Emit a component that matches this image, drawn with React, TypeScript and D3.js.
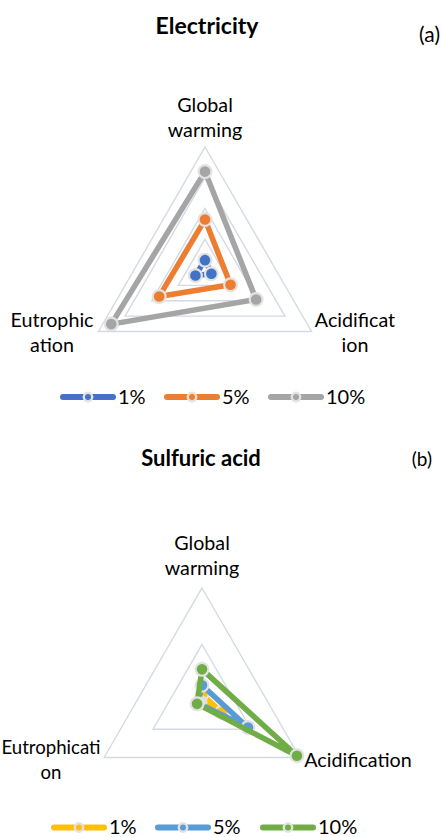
import React from "react";
import * as d3 from "d3";

// ---- data ----
const AXES = ["Global warming", "Acidification", "Eutrophication"];
const SERIES_NAMES = ["1%", "5%", "10%"];

const ELEC_1 = [0.08, 0.06, 0.09];
const ELEC_5 = [0.41, 0.24, 0.43];
const ELEC_10 = [0.8, 0.48, 0.88];
const ELEC_TICKS = [0.25, 0.5, 0.75, 1];
const ELEC_LABELS = [["Global", "warming"], ["Acidificat", "ion"], ["Eutrophic", "ation"]];

const SULF_1 = [0.06, 0.2, 0.02];
const SULF_5 = [0.14, 0.47, 0.04];
const SULF_10 = [0.28, 0.97, 0.05];
const SULF_TICKS = [0.5, 1];
const SULF_LABELS = [["Global", "warming"], ["Acidification"], ["Eutrophicati", "on"]];

const ELEC_COLORS = ["#4472C4", "#ED7D31", "#A5A5A5"];
const SULF_COLORS = ["#FFC000", "#5B9BD5", "#70AD47"];

const FONT = "Lato, 'Liberation Sans', sans-serif";
const GRID = "#D3DAE4";
const MARK_STROKE = "#E2E2E2";

// angle in radians, clockwise from 12 o'clock (d3 radial convention)
const angleScale = d3.scalePoint<string>().domain([...AXES, "_"]).range([0, 2 * Math.PI]);

type LabelPos = { x: number; y: number; anchor: string; size?: number };

function Radar(props: {
  cx: number; cy: number; R: number; ticks: number[];
  series: number[][]; colors: string[];
  labels: string[][]; labelPos: LabelPos[];
}) {
  const { cx, cy, R, ticks, series, colors, labels, labelPos } = props;
  const r = d3.scaleLinear().domain([0, 1]).range([0, R]);
  const line = d3
    .lineRadial<number>()
    .angle((_, i) => angleScale(AXES[i]) as number)
    .radius((d) => r(d))
    .curve(d3.curveLinearClosed);
  const pt = (v: number, i: number) => {
    const a = angleScale(AXES[i]) as number;
    return [Math.sin(a) * r(v), -Math.cos(a) * r(v)];
  };
  return (
    <g>
      <g transform={`translate(${cx},${cy})`}>
        {ticks.map((t) => (
          <path key={t} d={line(AXES.map(() => t)) || ""} fill="none" stroke={GRID} strokeWidth={1.4} />
        ))}
        {series.map((s, si) => (
          <g key={si}>
            <path d={line(s) || ""} fill="none" stroke={colors[si]} strokeWidth={5.5} strokeLinejoin="round" />
            {s.map((v, i) => {
              const [x, y] = pt(v, i);
              return <circle key={i} cx={x} cy={y} r={6.4} fill={colors[si]} stroke={MARK_STROKE} strokeWidth={2.2} />;
            })}
          </g>
        ))}
      </g>
      {labels.map((lines, i) => (
        <text key={i} x={labelPos[i].x} y={labelPos[i].y} textAnchor={labelPos[i].anchor} fontFamily={FONT} fontSize={labelPos[i].size ?? 19.7} fill="#000">
          {lines.map((l, j) => (
            <tspan key={j} x={labelPos[i].x} dy={j === 0 ? 0 : 25}>{l}</tspan>
          ))}
        </text>
      ))}
    </g>
  );
}

function Legend(props: { y: number; colors: string[]; starts: number[] }) {
  const { y, colors, starts } = props;
  return (
    <g>
      {SERIES_NAMES.map((n, i) => {
        const x0 = starts[i];
        return (
          <g key={n}>
            <line x1={x0 + 3} x2={x0 + 53} y1={y} y2={y} stroke={colors[i]} strokeWidth={6} strokeLinecap="round" />
            <circle cx={x0 + 28} cy={y} r={4.2} fill={colors[i]} stroke={MARK_STROKE} strokeWidth={2.4} />
            <text x={x0 + 58} y={y + 6.5} fontFamily={FONT} fontSize={20} fill="#000">{n}</text>
          </g>
        );
      })}
    </g>
  );
}

export default function App() {
  return (
    <svg width={441} height={837} style={{ position: "absolute", left: 0, top: 0, background: "#fff" }}>
      <text x={207} y={34} textAnchor="middle" fontFamily={FONT} fontWeight={700} fontSize={23} fill="#000">Electricity</text>
      <text x={440} y={42} textAnchor="end" fontFamily={FONT} fontSize={21} fill="#000">(a)</text>
      <Radar
        cx={205} cy={270} R={123} ticks={ELEC_TICKS}
        series={[ELEC_1, ELEC_5, ELEC_10]} colors={ELEC_COLORS}
        labels={ELEC_LABELS}
        labelPos={[
          { x: 205, y: 111.5, anchor: "middle" },
          { x: 355, y: 327, anchor: "middle" },
          { x: 52, y: 327, anchor: "middle" },
        ]}
      />
      <Legend y={397} colors={ELEC_COLORS} starts={[60, 164, 268]} />

      <text x={201} y={466} textAnchor="middle" fontFamily={FONT} fontWeight={700} fontSize={22} fill="#000">Sulfuric acid</text>
      <text x={432} y={466} textAnchor="end" fontFamily={FONT} fontSize={19} fill="#000">(b)</text>
      <Radar
        cx={202} cy={701} R={113} ticks={SULF_TICKS}
        series={[SULF_1, SULF_5, SULF_10]} colors={SULF_COLORS}
        labels={SULF_LABELS}
        labelPos={[
          { x: 202, y: 549.5, anchor: "middle" },
          { x: 358, y: 767, anchor: "middle" },
          { x: 51, y: 754, anchor: "middle", size: 18.6 },
        ]}
      />
      <Legend y={827.5} colors={SULF_COLORS} starts={[51, 155, 260]} />
    </svg>
  );
}
